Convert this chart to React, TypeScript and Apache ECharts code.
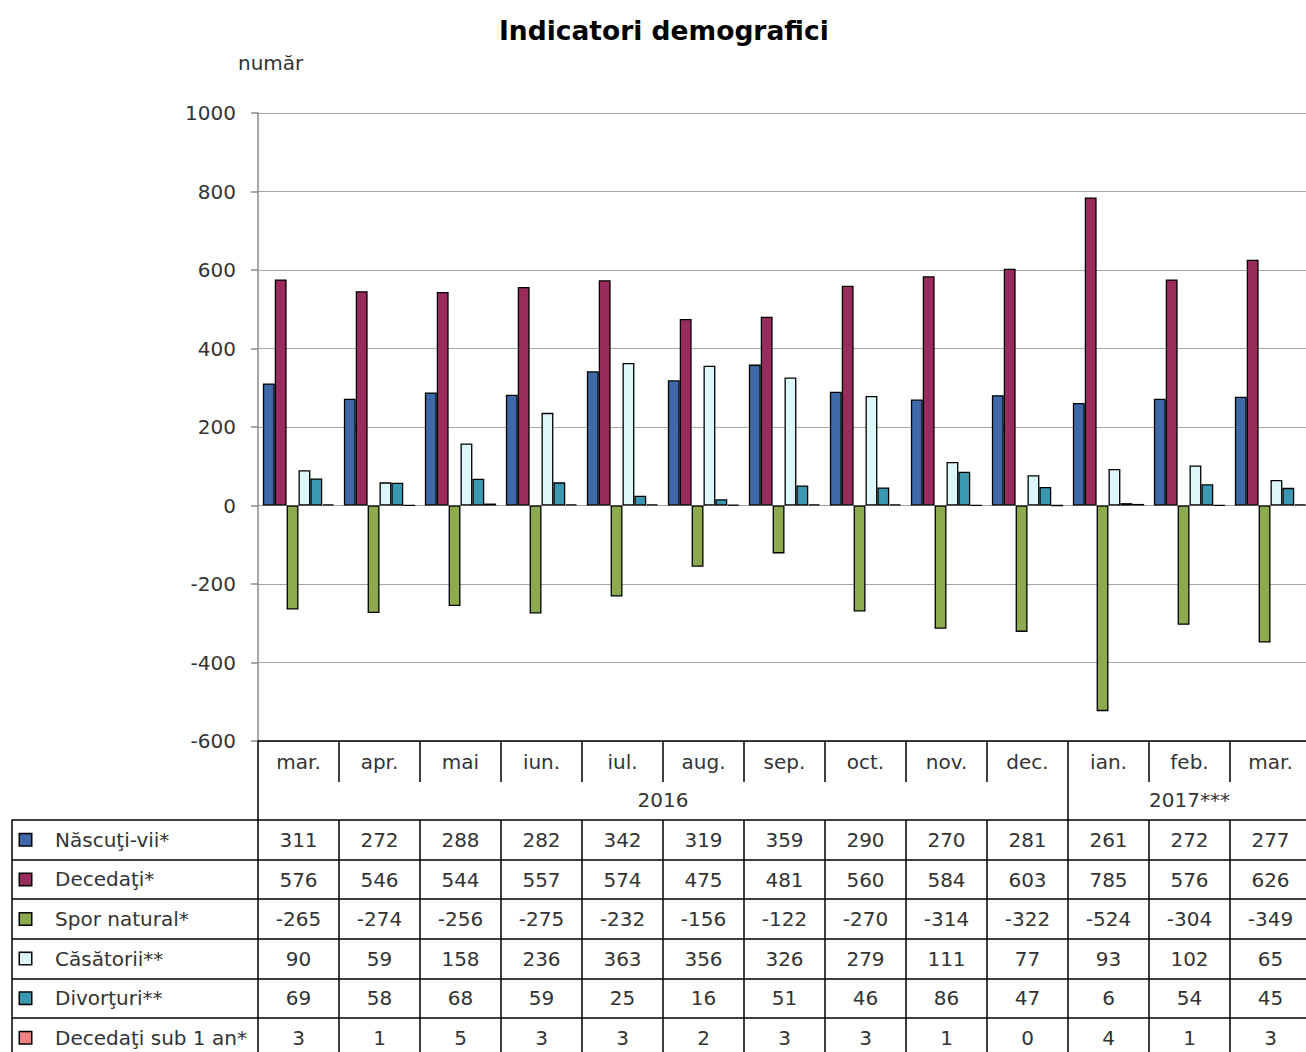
import React, { useEffect, useRef } from "react";
import * as echarts from "echarts";

const months = ["mar.", "apr.", "mai", "iun.", "iul.", "aug.", "sep.", "oct.", "nov.", "dec.", "ian.", "feb.", "mar."];
const seriesNames = ["Născuţi-vii*", "Decedaţi*", "Spor natural*", "Căsătorii**", "Divorţuri**", "Decedaţi sub 1 an*"];
const nascuti = [311, 272, 288, 282, 342, 319, 359, 290, 270, 281, 261, 272, 277];
const decedati = [576, 546, 544, 557, 574, 475, 481, 560, 584, 603, 785, 576, 626];
const spor = [-265, -274, -256, -275, -232, -156, -122, -270, -314, -322, -524, -304, -349];
const casatorii = [90, 59, 158, 236, 363, 356, 326, 279, 111, 77, 93, 102, 65];
const divorturi = [69, 58, 68, 59, 25, 16, 51, 46, 86, 47, 6, 54, 45];
const decSub1 = [3, 1, 5, 3, 3, 2, 3, 3, 1, 0, 4, 1, 3];
const years = ["2016", "2017***"];
const yearCenters = [5, 11.5];
const yearBounds = [0, 10, 13];
const rowBounds = [0, 1, 2, 3, 4, 5];
const rowCenters = [0.5, 1.5, 2.5, 3.5, 4.5, 5.5];
const colors = ["#3f68a8", "#9a2b5d", "#8eaa4f", "#dcf6fa", "#3a98b0", "#f28282"];

const FONT = "DejaVu Sans";
const TXT = "#333";

export default function App() {
  const ref = useRef<HTMLDivElement>(null);
  useEffect(() => {
    const chart = echarts.init(ref.current!, null, { renderer: "svg" });
    const allData = [nascuti, decedati, spor, casatorii, divorturi, decSub1];
    const rowH = 39.6;
    const tableTop = 820;
    const tableVisible = 1052 - tableTop;
    const rowAxes = allData.map((d, i) => ({
      type: "category",
      gridIndex: 0,
      position: "bottom",
      offset: 79 + i * rowH,
      data: d.map(String),
      axisLine: { show: true, onZero: false, lineStyle: { color: "#000", width: 1.5 } },
      axisTick: { show: true, length: rowH, interval: 0, lineStyle: { color: "#000", width: 1.5 } },
      axisLabel: { interval: 0, margin: 10, color: TXT, fontSize: 20, fontFamily: FONT },
      splitLine: { show: false },
    }));
    const rich: any = { s: { width: 24 }, t: { color: TXT, fontSize: 20, fontFamily: FONT } };
    colors.forEach((c, i) => {
      rich["m" + i] = { width: 11, height: 11, backgroundColor: c, borderColor: "#000", borderWidth: 1.5 };
    });
    chart.setOption({
      animation: false,
      textStyle: { fontFamily: FONT },
      title: [
        { text: "Indicatori demografici", left: 494, top: 12, textStyle: { fontSize: 26.5, fontWeight: "bold", color: "#000", fontFamily: FONT } },
        { text: "număr", left: 233, top: 48, textStyle: { fontSize: 20, fontWeight: "normal", color: TXT, fontFamily: FONT } },
      ],
      grid: [
        { left: 258, width: 1053, top: 113, bottom: 311 },
        { left: 12, width: 246, top: tableTop, height: tableVisible },
      ],
      xAxis: [
        {
          type: "category",
          gridIndex: 0,
          position: "bottom",
          data: months,
          axisLine: { show: true, onZero: false, lineStyle: { color: "#000", width: 1.5 } },
          axisTick: { show: true, length: 41, interval: 0, lineStyle: { color: "#000", width: 1.5 } },
          axisLabel: { interval: 0, margin: 11, color: TXT, fontSize: 20, fontFamily: FONT },
        },
        {
          type: "value",
          gridIndex: 0,
          position: "bottom",
          offset: 41,
          min: 0,
          max: 13,
          axisLine: { show: false, onZero: false },
          axisTick: { show: true, length: 38, customValues: yearBounds, lineStyle: { color: "#000", width: 1.5 } },
          axisLabel: {
            show: true,
            customValues: yearCenters,
            margin: 8,
            color: TXT,
            fontSize: 20,
            fontFamily: FONT,
            formatter: (v: number) => years[yearCenters.indexOf(v)] ?? "",
          },
          splitLine: { show: false },
        },
        ...rowAxes,
        { type: "value", gridIndex: 1, show: false },
      ],
      yAxis: [
        {
          type: "value",
          gridIndex: 0,
          min: -600,
          max: 1000,
          interval: 200,
          axisLine: { show: true, lineStyle: { color: "#8a8a8a", width: 1.5 } },
          axisTick: { show: true, length: 7, lineStyle: { color: "#8a8a8a", width: 1.5 } },
          axisLabel: { margin: 22, color: TXT, fontSize: 20, fontFamily: FONT, formatter: (v: number) => String(v) },
          splitLine: { show: true, lineStyle: { color: "#a6a6a6", width: 1.2 } },
        },
        {
          type: "value",
          gridIndex: 1,
          inverse: true,
          min: 0,
          max: tableVisible / rowH,
          axisLine: { show: true, lineStyle: { color: "#000", width: 1.5 } },
          axisTick: { show: true, inside: true, length: 246, customValues: rowBounds, lineStyle: { color: "#000", width: 1.5 } },
          splitLine: { show: false },
          axisLabel: {
            inside: true,
            margin: 8,
            customValues: rowCenters,
            formatter: (v: number) => {
              const i = rowCenters.indexOf(v);
              return `{m${i}|}{s|}{t|${seriesNames[i]}}`;
            },
            rich,
          },
        },
      ],
      series: allData.map((d, i) => ({
        name: seriesNames[i],
        type: "bar",
        xAxisIndex: 0,
        yAxisIndex: 0,
        data: d,
        barGap: "0%",
        barCategoryGap: "12%",
        itemStyle: { color: colors[i], borderColor: "#000", borderWidth: 1.3 },
      })),
    });
    return () => chart.dispose();
  }, []);
  return (
    <div style={{ width: 1306, height: 1052, position: "absolute", left: 0, top: 0, overflow: "hidden", background: "#fff" }}>
      <div ref={ref} style={{ width: 1311, height: 1052, position: "absolute", left: 0, top: 0 }} />
    </div>
  );
}
